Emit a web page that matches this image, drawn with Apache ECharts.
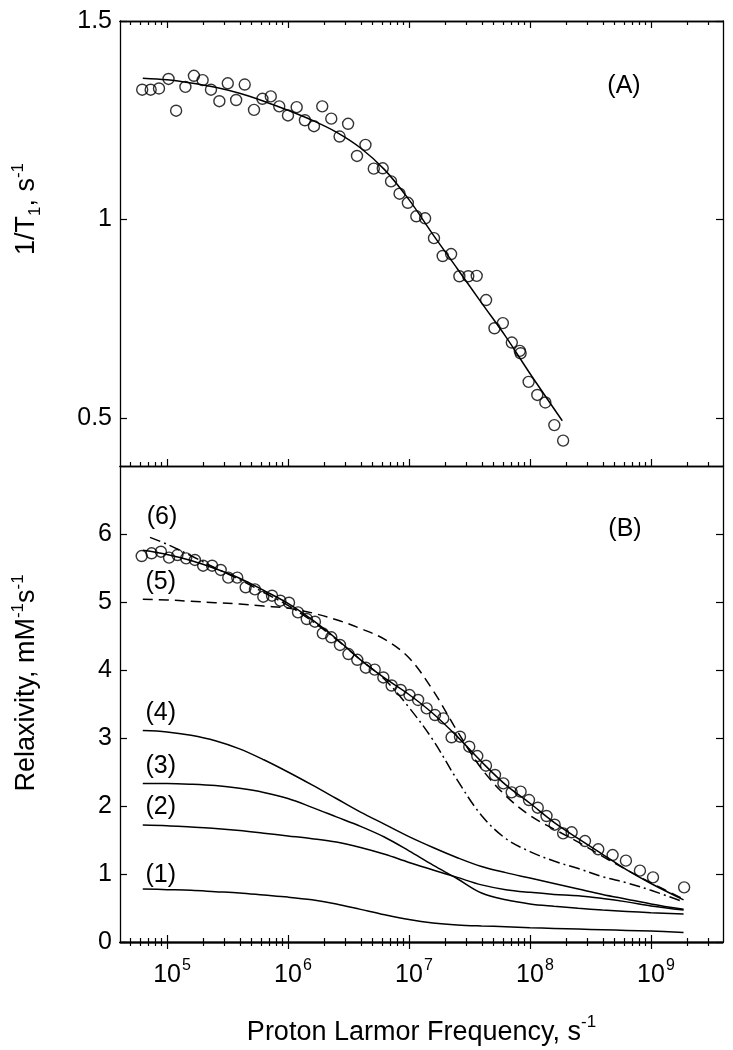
<!DOCTYPE html>
<html><head><meta charset="utf-8">
<script src="https://cdn.jsdelivr.net/npm/echarts@6/dist/echarts.min.js"></script>
<style>html,body{margin:0;padding:0;background:#fff}#c{width:733px;height:1050px}</style>
</head><body><div id="c"></div>
<script>
// ---------- Panel (A): 1/T1 ----------
const freqA = [6.24e4,7.33e4,8.59e4,1.03e5,1.19e5,1.42e5,1.67e5,1.97e5,2.31e5,2.71e5,3.18e5,3.73e5,4.39e5,5.24e5,6.15e5,7.21e5,8.47e5,1.00e6,1.18e6,1.38e6,1.64e6,1.92e6,2.28e6,2.67e6,3.14e6,3.72e6,4.37e6,5.12e6,6.07e6,7.11e6,8.36e6,9.79e6,1.15e7,1.36e7,1.61e7,1.90e7,2.23e7,2.61e7,3.09e7,3.63e7,4.34e7,5.09e7,5.97e7,7.08e7,8.24e7,8.37e7,9.75e7,1.15e8,1.34e8,1.59e8,1.88e8];
const rateA = [1.327,1.327,1.330,1.354,1.274,1.334,1.362,1.351,1.327,1.298,1.343,1.301,1.340,1.276,1.304,1.310,1.285,1.262,1.283,1.250,1.235,1.285,1.254,1.209,1.241,1.160,1.188,1.128,1.129,1.096,1.065,1.042,1.008,1.003,0.953,0.908,0.913,0.857,0.857,0.858,0.797,0.726,0.739,0.690,0.669,0.663,0.591,0.558,0.539,0.482,0.443];
const fitFreqA = [6.31e4,1e5,1.58e5,2.51e5,3.98e5,6.31e5,1e6,1.58e6,2.51e6,3.98e6,6.31e6,1e7,1.58e7,2.51e7,3.98e7,6.31e7,1e8,1.85e8];
const fitA = [1.356,1.352,1.344,1.333,1.318,1.298,1.275,1.250,1.220,1.180,1.125,1.050,0.962,0.876,0.790,0.705,0.612,0.493];

// ---------- Panel (B): relaxivity ----------
const freqB = [6.18e4,7.46e4,8.91e4,1.04e5,1.22e5,1.44e5,1.70e5,1.99e5,2.36e5,2.78e5,3.21e5,3.81e5,4.47e5,5.33e5,6.25e5,7.38e5,8.65e5,1.02e6,1.21e6,1.43e6,1.67e6,1.94e6,2.28e6,2.69e6,3.16e6,3.74e6,4.40e6,5.21e6,6.14e6,7.19e6,8.53e6,1.01e7,1.19e7,1.40e7,1.64e7,1.92e7,2.25e7,2.64e7,3.15e7,3.67e7,4.33e7,5.14e7,6.03e7,7.06e7,8.37e7,9.82e7,1.16e8,1.37e8,1.60e8,1.88e8,2.21e8,2.85e8,3.67e8,4.82e8,6.21e8,8.11e8,1.04e9,1.88e9];
const relaxB = [5.676,5.716,5.740,5.652,5.691,5.642,5.618,5.534,5.534,5.471,5.358,5.358,5.216,5.186,5.078,5.093,5.019,4.990,4.848,4.750,4.710,4.539,4.481,4.368,4.235,4.150,4.034,4.005,3.890,3.772,3.706,3.632,3.559,3.436,3.338,3.289,3.010,3.019,2.872,2.735,2.593,2.456,2.333,2.201,2.211,2.088,1.975,1.853,1.725,1.598,1.613,1.485,1.363,1.279,1.196,1.049,0.951,0.804];

const curveFreq = [6.31e4,1e5,1.58e5,2.51e5,3.98e5,6.31e5,1e6,1.58e6,2.51e6,3.98e6,6.31e6,1e7,1.58e7,2.51e7,3.98e7,6.31e7,1e8,1.58e8,2.51e8,3.98e8,6.31e8,1e9,1.86e9];
const fitB   = [5.76,5.70,5.61,5.49,5.35,5.17,4.98,4.74,4.46,4.15,3.88,3.64,3.36,3.02,2.65,2.31,2.04,1.76,1.52,1.29,1.06,0.86,0.62];
const curve1 = [0.78,0.77,0.76,0.74,0.72,0.69,0.66,0.62,0.56,0.48,0.40,0.33,0.28,0.25,0.235,0.225,0.21,0.20,0.19,0.18,0.17,0.16,0.14];
const curve2 = [1.72,1.71,1.69,1.67,1.64,1.60,1.56,1.52,1.47,1.39,1.29,1.17,1.06,0.95,0.84,0.77,0.73,0.70,0.68,0.64,0.59,0.53,0.47];
const curve3 = [2.33,2.33,2.32,2.30,2.26,2.20,2.11,1.98,1.84,1.70,1.54,1.34,1.13,0.93,0.72,0.62,0.56,0.525,0.495,0.47,0.45,0.43,0.41];
const curve4 = [3.11,3.09,3.04,2.96,2.84,2.68,2.50,2.31,2.11,1.91,1.73,1.55,1.39,1.24,1.11,1.02,0.94,0.86,0.78,0.70,0.63,0.56,0.48];
const curve5 = [5.04,5.03,5.01,4.99,4.97,4.94,4.91,4.84,4.74,4.61,4.45,4.18,3.70,3.10,2.55,2.15,1.86,1.66,1.47,1.26,1.06,0.87,0.63];
const curve6Freq = [7.24e4,1e5,1.58e5,2.51e5,3.98e5,6.31e5,1e6,1.58e6,2.51e6,3.98e6,6.31e6,1e7,1.58e7,2.51e7,3.98e7,6.31e7,1e8,1.58e8,2.51e8,3.98e8,6.31e8,1e9,1.86e9];
const curve6 = [5.95,5.85,5.68,5.50,5.33,5.14,4.95,4.72,4.45,4.15,3.86,3.45,2.97,2.38,1.86,1.52,1.33,1.19,1.08,0.96,0.87,0.76,0.59];

// ---------- ticks ----------
const xMajorTicks = [1e5,1e6,1e7,1e8,1e9];
const xMinorMultipliers = [2,3,4,5,6,7,8,9];
const yTicksA = [0.5,1,1.5];
const yTicksB = [0,1,2,3,4,5,6];
const curveLabels = ['(1)','(2)','(3)','(4)','(5)','(6)'];

const X_MIN = 4.09e4, X_MAX = 3.94e9;
const xMinorTicks = [];
[1e4,1e5,1e6,1e7,1e8,1e9].forEach(d => xMinorMultipliers.forEach(m => {
  const v = m*d; if (v > X_MIN && v < X_MAX) xMinorTicks.push(v);
}));

const FONT = 'Liberation Sans, Arial, Helvetica, sans-serif';
const BLACK = '#000';

function xAxisDef(grid, pos, ticks, len, withLabels) {
  return {
    type: 'log', logBase: 10, gridIndex: grid, position: pos, min: X_MIN, max: X_MAX,
    axisLine: {show: true, lineStyle: {color: BLACK, width: 1.3}},
    axisTick: {show: true, inside: true, length: len, customValues: ticks, lineStyle: {color: BLACK, width: 1.2}},
    minorTick: {show: false}, splitLine: {show: false},
    axisLabel: withLabels ? {
      show: true, customValues: xMajorTicks, margin: 16, color: BLACK,
      formatter: v => '{p|}{b|10}{s|' + Math.round(Math.log10(v)) + '}',
      rich: {
        p: {width: 10},
        b: {fontSize: 25, fontFamily: FONT, color: BLACK, lineHeight: 30, verticalAlign: 'bottom'},
        s: {fontSize: 16, fontFamily: FONT, color: BLACK, lineHeight: 30, verticalAlign: 'top', padding: [0,0,0,1]}
      }
    } : {show: false},
    name: withLabels ? '{n|Proton Larmor Frequency, s}{s|-1}' : '',
    nameLocation: 'middle', nameGap: 72,
    nameTextStyle: withLabels ? {
      rich: {
        n: {fontSize: 27, fontFamily: FONT, color: BLACK, lineHeight: 32, verticalAlign: 'bottom'},
        s: {fontSize: 17, fontFamily: FONT, color: BLACK, lineHeight: 32, verticalAlign: 'top'}
      }
    } : {}
  };
}
function yAxisDef(grid, pos, min, max, ticks, withLabels) {
  return {
    type: 'value', gridIndex: grid, position: pos, min: min, max: max,
    axisLine: {show: true, lineStyle: {color: BLACK, width: 1.3}},
    axisTick: {show: true, inside: true, length: 7, customValues: ticks, lineStyle: {color: BLACK, width: 1.2}},
    splitLine: {show: false},
    axisLabel: withLabels ? {show: true, customValues: ticks, margin: 8, fontSize: 25, fontFamily: FONT, color: BLACK,
      formatter: v => String(v)} : {show: false}
  };
}

function pairs(xs, ys) { return xs.map((x, i) => [x, ys[i]]); }
function labelledPairs(xs, ys, text, offset) {
  return xs.map((x, i) => {
    const d = {value: [x, ys[i]]};
    if (i === 0 && text) d.label = {show: true, formatter: text, position: 'top', offset: offset,
      fontSize: 25, fontFamily: FONT, color: BLACK};
    return d;
  });
}
function curve(xs, ys, text, offset, dash) {
  return {
    type: 'line', xAxisIndex: 6, yAxisIndex: 2, data: labelledPairs(xs, ys, text, offset),
    smooth: 0.35, symbol: 'circle', symbolSize: 0.1, showSymbol: true, showAllSymbol: true,
    itemStyle: {color: BLACK}, lineStyle: {color: BLACK, width: 1.5, type: dash || 'solid'},
    silent: true, z: 3
  };
}
const circleStyle = {color: 'rgba(0,0,0,0)', borderColor: BLACK, borderWidth: 1.4};

const option = {
  animation: false,
  backgroundColor: '#fff',
  grid: [
    {left: 120, right: 10, top: 21, height: 445},
    {left: 120, right: 10, top: 466, height: 476}
  ],
  xAxis: [
    xAxisDef(0, 'bottom', xMajorTicks, 7, false),
    xAxisDef(0, 'bottom', xMinorTicks, 4, false),
    xAxisDef(0, 'top', xMajorTicks, 7, false),
    xAxisDef(0, 'top', xMinorTicks, 4, false),
    xAxisDef(1, 'top', xMajorTicks, 7, false),
    xAxisDef(1, 'top', xMinorTicks, 4, false),
    xAxisDef(1, 'bottom', xMajorTicks, 7, true),
    xAxisDef(1, 'bottom', xMinorTicks, 4, false)
  ],
  yAxis: [
    yAxisDef(0, 'left', 0.379, 1.5, yTicksA, true),
    yAxisDef(0, 'right', 0.379, 1.5, yTicksA, false),
    yAxisDef(1, 'left', 0, 7, yTicksB, true),
    yAxisDef(1, 'right', 0, 7, yTicksB, false)
  ],
  graphic: [
    {type: 'text', x: 27, y: 209, rotation: Math.PI / 2, style: {
      text: '{n|1/T}{b|1}{n|, s}{s|-1}', align: 'center', verticalAlign: 'middle',
      rich: {
        n: {fontSize: 27, fontFamily: FONT, fill: BLACK, lineHeight: 34, verticalAlign: 'middle'},
        b: {fontSize: 17, fontFamily: FONT, fill: BLACK, lineHeight: 34, verticalAlign: 'bottom'},
        s: {fontSize: 17, fontFamily: FONT, fill: BLACK, lineHeight: 34, verticalAlign: 'top'}
      }}},
    {type: 'text', x: 27, y: 683, rotation: Math.PI / 2, style: {
      text: '{n|Relaxivity, mM}{s|-1}{n|s}{s|-1}', align: 'center', verticalAlign: 'middle',
      rich: {
        n: {fontSize: 27, fontFamily: FONT, fill: BLACK, lineHeight: 34, verticalAlign: 'middle'},
        s: {fontSize: 17, fontFamily: FONT, fill: BLACK, lineHeight: 34, verticalAlign: 'top'}
      }}},
    {type: 'text', x: 624, y: 86, style: {text: '(A)', fontSize: 25, fontFamily: FONT, fill: BLACK, align: 'center', verticalAlign: 'middle'}},
    {type: 'text', x: 625, y: 529, style: {text: '(B)', fontSize: 25, fontFamily: FONT, fill: BLACK, align: 'center', verticalAlign: 'middle'}}
  ],
  series: [
    {type: 'line', xAxisIndex: 0, yAxisIndex: 0, data: pairs(fitFreqA, fitA), smooth: 0.35,
     symbol: 'none', lineStyle: {color: BLACK, width: 1.5}, silent: true},
    {type: 'scatter', xAxisIndex: 0, yAxisIndex: 0, data: pairs(freqA, rateA), symbol: 'circle', symbolSize: 11,
     itemStyle: circleStyle, silent: true, z: 4},
    curve(curveFreq, curve1, curveLabels[0], [18, 4]),
    curve(curveFreq, curve2, curveLabels[1], [18, 0]),
    curve(curveFreq, curve3, curveLabels[2], [18, 0]),
    curve(curveFreq, curve4, curveLabels[3], [18, 0]),
    curve(curveFreq, curve5, curveLabels[4], [18, 0], [10, 6]),
    curve(curve6Freq, curve6, curveLabels[5], [12, -3], [11, 4, 2, 4]),
    curve(curveFreq, fitB, '', [0, 0]),
    {type: 'scatter', xAxisIndex: 6, yAxisIndex: 2, data: pairs(freqB, relaxB), symbol: 'circle', symbolSize: 11,
     itemStyle: circleStyle, silent: true, z: 4}
  ]
};

const chart = echarts.init(document.getElementById('c'), null, {renderer: 'canvas'});
chart.setOption(option);
</script></body></html>
